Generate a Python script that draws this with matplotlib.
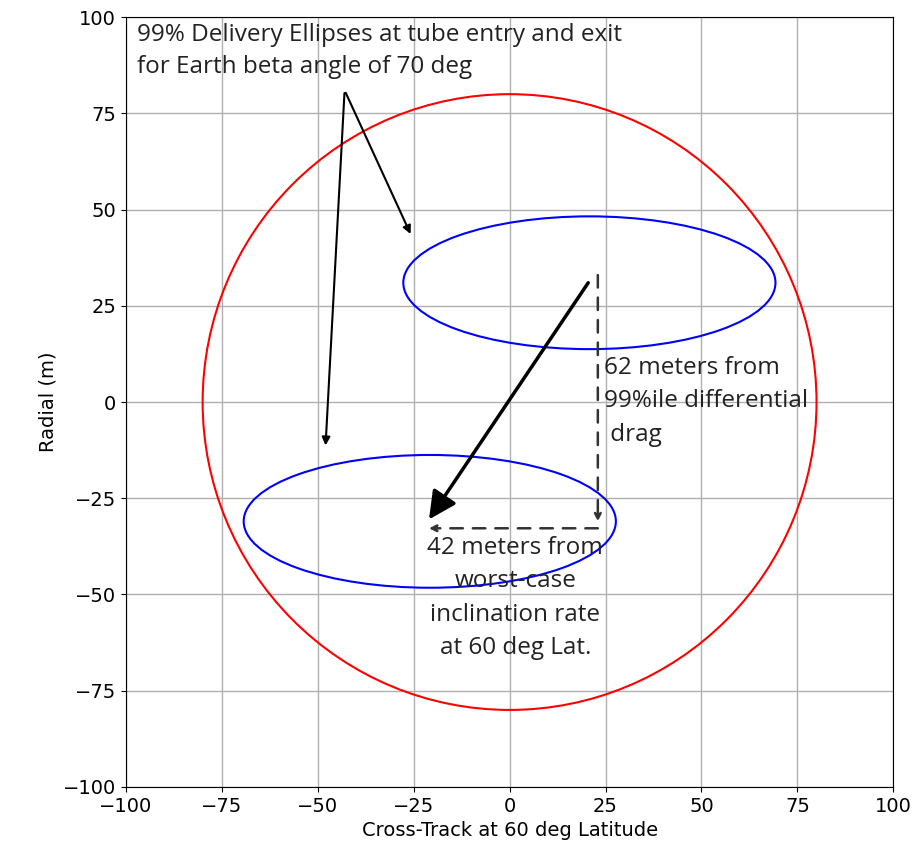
import matplotlib.pyplot as plt
from matplotlib.patches import Circle, Ellipse

# keep-out circle and the two 99% delivery ellipses (meters)
circle_radius = 80
ellipse_x = [20.8, -20.8]
ellipse_y = [31.0, -31.0]
ellipse_w = [97.0, 97.0]
ellipse_h = [34.5, 34.5]

# arrow endpoints
label_tip = (-43, 81)
label_targets = [(-25.5, 43), (-48, -12)]
shift_start = (20.5, 31)
shift_end = (-21, -30.5)
drag_x = 23
drag_y = [33, -31]
incl_y = -32.8
incl_x = [23, -21]

annot_font = 'Open Sans'
annot_size = 17.5
annot_spacing = 1.52

fig = plt.figure(figsize=(9.19, 8.60), dpi=100)
ax = fig.add_axes([0.137, 0.085, 0.835, 0.895])

ax.add_patch(Circle((0, 0), circle_radius, fill=False, color='red', lw=1.5))
for cx, cy, w, h in zip(ellipse_x, ellipse_y, ellipse_w, ellipse_h):
    ax.add_patch(Ellipse((cx, cy), w, h, fill=False, color='blue', lw=1.5))

ax.set_xlim(-100, 100)
ax.set_ylim(-100, 100)
ax.set_xticks(range(-100, 101, 25))
ax.set_yticks(range(-100, 101, 25))
ax.grid(True, color='#b0b0b0', lw=1)
ax.set_axisbelow(True)
ax.tick_params(labelsize=14)
ax.set_xlabel('Cross-Track at 60 deg Latitude', fontsize=14)
ax.set_ylabel('Radial (m)', fontsize=14)

ax.text(-97, 98.5, '99% Delivery Ellipses at tube entry and exit\nfor Earth beta angle of 70 deg',
        family=annot_font, fontsize=annot_size, va='top', ha='left', color='#222222',
        linespacing=1.45)
for tx, ty in label_targets:
    ax.annotate('', xy=(tx, ty), xytext=label_tip,
                arrowprops=dict(arrowstyle='-|>', color='black', lw=1.5, mutation_scale=12))

ax.annotate('', xy=shift_end, xytext=shift_start,
            arrowprops=dict(arrowstyle='-|>', color='black', lw=2.5, mutation_scale=42,
                            shrinkA=0, shrinkB=0))

ax.annotate('', xy=(drag_x, drag_y[1]), xytext=(drag_x, drag_y[0]),
            arrowprops=dict(arrowstyle='-|>', color='#333333', lw=1.8, ls=(0, (5, 4)),
                            mutation_scale=10, shrinkA=0, shrinkB=0))
ax.annotate('', xy=(incl_x[1], incl_y), xytext=(incl_x[0], incl_y),
            arrowprops=dict(arrowstyle='-|>', color='#333333', lw=1.8, ls=(0, (5, 4)),
                            mutation_scale=10, shrinkA=0, shrinkB=0))

ax.text(24.5, 12.0, '62 meters from\n99%ile differential\n drag', family=annot_font,
        fontsize=annot_size, va='top', ha='left', color='#222222', linespacing=annot_spacing)
ax.text(1.5, -34.8, '42 meters from\nworst-case\ninclination rate\nat 60 deg Lat.',
        family=annot_font, fontsize=annot_size, va='top', ha='center', multialignment='center',
        color='#222222', linespacing=annot_spacing)

fig.savefig('out.png', dpi=100)
